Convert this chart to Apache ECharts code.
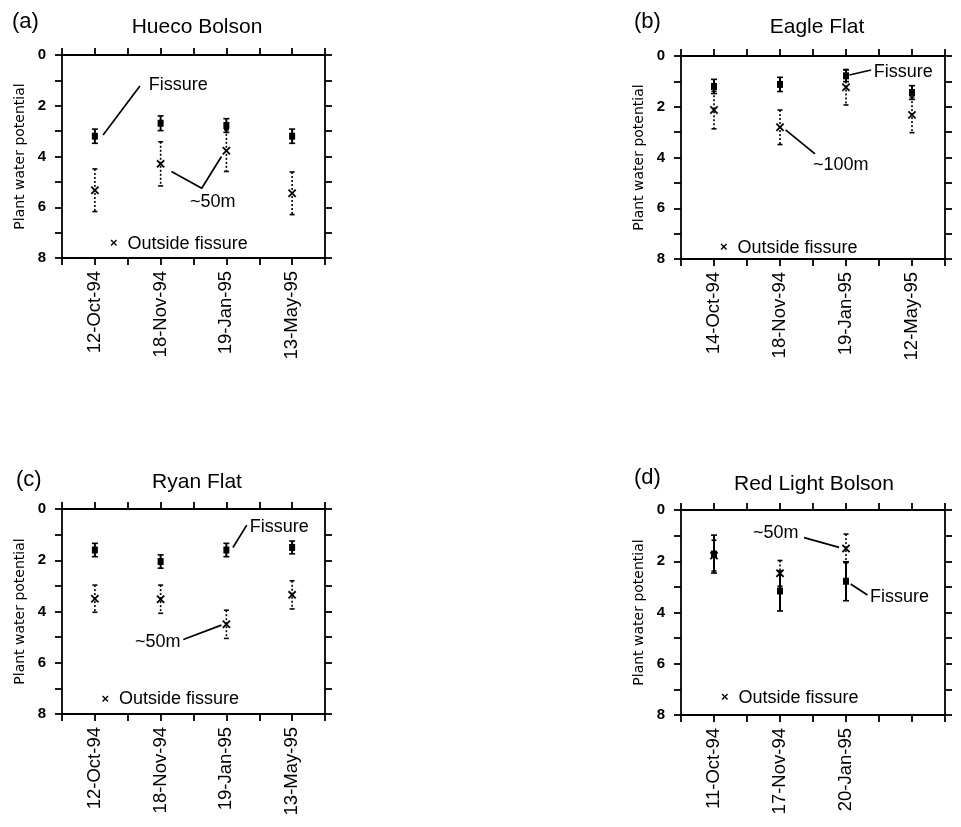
<!DOCTYPE html>
<html>
<head>
<meta charset="utf-8">
<script src="https://cdn.jsdelivr.net/npm/echarts@6/dist/echarts.min.js"></script>
<style>
html,body{margin:0;padding:0;background:#fff;}
#chart{width:961px;height:827px;}
</style>
</head>
<body>
<div id="chart"></div>
<script>
// ---------------- DATA ----------------
const titles = ['Hueco Bolson', 'Eagle Flat', 'Ryan Flat', 'Red Light Bolson'];
const panelLetters = ['(a)', '(b)', '(c)', '(d)'];
const yTicks = [0, 2, 4, 6, 8];
const yAxisName = 'Plant water potential';

const datesA = ['12-Oct-94', '18-Nov-94', '19-Jan-95', '13-May-95'];
const fissureA = [3.2, 2.69, 2.78, 3.2];
const fissureErrA = [0.28, 0.29, 0.27, 0.28];
const outsideA = [5.33, 4.29, 3.77, 5.45];
const outsideErrA = [0.84, 0.87, 0.82, 0.84];

const datesB = ['14-Oct-94', '18-Nov-94', '19-Jan-95', '12-May-95'];
const fissureB = [1.2, 1.12, 0.78, 1.44];
const fissureErrB = [0.28, 0.28, 0.23, 0.27];
const outsideB = [2.13, 2.81, 1.23, 2.32];
const outsideErrB = [0.74, 0.68, 0.7, 0.7];

const datesC = ['12-Oct-94', '18-Nov-94', '19-Jan-95', '13-May-95'];
const fissureC = [1.6, 2.05, 1.6, 1.5];
const fissureErrC = [0.26, 0.26, 0.26, 0.25];
const outsideC = [3.5, 3.52, 4.5, 3.35];
const outsideErrC = [0.53, 0.55, 0.55, 0.55];

const datesD = ['11-Oct-94', '17-Nov-94', '20-Jan-95'];
const fissureD = [1.72, 3.16, 2.78];
const fissureErrD = [0.74, 0.78, 0.76];
const outsideD = [1.78, 2.47, 1.5];
const outsideErrD = [0.6, 0.5, 0.56];

// annotation texts (anchored in data coordinates: x-axis units, y value)
const annotTextsA = [
  {x: 2.64, y: 1.2, text: 'Fissure'},
  {x: 3.89, y: 5.81, text: '~50m'},
  {x: 1.46, y: 7.44, text: '{m|×}  Outside fissure'}
];
const annotLinesA = [
  [[1.25, 3.15], [2.37, 1.22]],
  [[3.33, 4.59], [4.25, 5.25], [4.85, 4.0]]
];
const annotTextsB = [
  {x: 5.84, y: 0.63, text: 'Fissure'},
  {x: 4.0, y: 4.29, text: '~100m'},
  {x: 1.18, y: 7.56, text: '{m|×}  Outside fissure'}
];
const annotLinesB = [
  [[5.1, 0.75], [5.76, 0.55]],
  [[3.17, 2.91], [4.06, 3.86]]
];
const annotTextsC = [
  {x: 5.71, y: 0.69, text: 'Fissure'},
  {x: 2.22, y: 5.18, text: '~50m'},
  {x: 1.2, y: 7.43, text: '{m|×}  Outside fissure'}
];
const annotLinesC = [
  [[5.2, 1.5], [5.62, 0.63]],
  [[3.69, 5.09], [4.85, 4.53]]
];
const annotTextsD = [
  {x: 2.18, y: 0.89, text: '~50m'},
  {x: 5.73, y: 3.39, text: 'Fissure'},
  {x: 1.21, y: 7.32, text: '{m|×}  Outside fissure'}
];
const annotLinesD = [
  [[3.73, 1.08], [4.79, 1.46]],
  [[5.14, 2.89], [5.65, 3.32]]
];

// ---------------- BUILD ----------------
const FONT = '"Liberation Sans", Arial, Helvetica, sans-serif';
const panels = [
  {dates: datesA, f: fissureA, fe: fissureErrA, o: outsideA, oe: outsideErrA, texts: annotTextsA, lines: annotLinesA},
  {dates: datesB, f: fissureB, fe: fissureErrB, o: outsideB, oe: outsideErrB, texts: annotTextsB, lines: annotLinesB},
  {dates: datesC, f: fissureC, fe: fissureErrC, o: outsideC, oe: outsideErrC, texts: annotTextsC, lines: annotLinesC},
  {dates: datesD, f: fissureD, fe: fissureErrD, o: outsideD, oe: outsideErrD, texts: annotTextsD, lines: annotLinesD}
];
const grids = [
  {left: 62, top: 55, width: 263, height: 203},
  {left: 681, top: 56, width: 264, height: 203},
  {left: 62, top: 509, width: 263, height: 205},
  {left: 681, top: 510, width: 264, height: 205}
];
const titlePos = [[197, 27], [817, 27], [197, 482], [814, 484]];
const letterPos = [[12, 22], [634, 22], [16, 480], [634, 478]];

const axLine = {show: true, onZero: false, lineStyle: {color: '#000', width: 1.8}};
const axTick = {show: true, inside: false, length: 7, lineStyle: {color: '#000', width: 1.8}};

const xAxes = [], yAxes = [], series = [], graphics = [];

function errRender(kind) {
  return function (params, api) {
    const x = api.value(0), v = api.value(1), e = api.value(2);
    const c = api.coord([x, v]);
    const t = api.coord([x, v - e]);
    const b = api.coord([x, v + e]);
    const solid = kind === 'fissure';
    const cw = solid ? 3 : 2.5;
    const ch = [
      {type: 'line', shape: {x1: c[0], y1: t[1], x2: c[0], y2: b[1]},
       style: {stroke: '#000', lineWidth: solid ? 2 : 1.6, lineDash: solid ? null : [2, 2]}},
      {type: 'line', shape: {x1: c[0] - cw, y1: t[1], x2: c[0] + cw, y2: t[1]},
       style: {stroke: '#000', lineWidth: 1.6}},
      {type: 'line', shape: {x1: c[0] - cw, y1: b[1], x2: c[0] + cw, y2: b[1]},
       style: {stroke: '#000', lineWidth: 1.6}}
    ];
    if (solid) {
      ch.push({type: 'rect', shape: {x: c[0] - 3, y: c[1] - 3.5, width: 6, height: 7}, style: {fill: '#000'}});
    } else {
      const s = 3.6;
      ch.push({type: 'line', shape: {x1: c[0] - s, y1: c[1] - s, x2: c[0] + s, y2: c[1] + s}, style: {stroke: '#000', lineWidth: 1.8}});
      ch.push({type: 'line', shape: {x1: c[0] - s, y1: c[1] + s, x2: c[0] + s, y2: c[1] - s}, style: {stroke: '#000', lineWidth: 1.8}});
    }
    return {type: 'group', children: ch};
  };
}

panels.forEach((p, i) => {
  const dates = p.dates;
  xAxes.push({
    gridIndex: i, type: 'value', position: 'bottom', min: 0, max: 8, interval: 1,
    axisLine: axLine, axisTick: axTick, splitLine: {show: false},
    axisLabel: {
      show: true, rotate: 90, margin: 13, color: '#000', fontFamily: FONT, fontSize: 18.5,
      showMinLabel: true, showMaxLabel: true,
      formatter: v => (v % 2 === 1 && dates[(v - 1) / 2]) ? dates[(v - 1) / 2] : ''
    }
  });
  xAxes.push({
    gridIndex: i, type: 'value', position: 'top', min: 0, max: 8, interval: 1,
    axisLine: axLine, axisTick: axTick, splitLine: {show: false}, axisLabel: {show: false}
  });
  yAxes.push({
    gridIndex: i, type: 'value', position: 'left', inverse: true, min: 0, max: 8, interval: 1,
    axisLine: axLine, axisTick: axTick, splitLine: {show: false},
    name: yAxisName, nameLocation: 'middle', nameGap: 35,
    nameTextStyle: {color: '#000', fontFamily: '"DejaVu Sans", sans-serif', fontSize: 14},
    axisLabel: {
      show: true, margin: 16, color: '#000', fontFamily: FONT, fontSize: 15, fontWeight: 'bold',
      showMinLabel: true, showMaxLabel: true,
      formatter: v => yTicks.indexOf(v) >= 0 ? String(v) : ''
    }
  });
  yAxes.push({
    gridIndex: i, type: 'value', position: 'right', inverse: true, min: 0, max: 8, interval: 1,
    axisLine: axLine, axisTick: axTick, splitLine: {show: false}, axisLabel: {show: false}
  });

  const xi = 2 * i, yi = 2 * i;
  series.push({
    type: 'custom', xAxisIndex: xi, yAxisIndex: yi, clip: false, silent: true, z: 5,
    renderItem: errRender('fissure'),
    encode: {x: 0, y: 1},
    data: dates.map((d, k) => [2 * k + 1, p.f[k], p.fe[k]])
  });
  series.push({
    type: 'custom', xAxisIndex: xi, yAxisIndex: yi, clip: false, silent: true, z: 6,
    renderItem: errRender('outside'),
    encode: {x: 0, y: 1},
    data: dates.map((d, k) => [2 * k + 1, p.o[k], p.oe[k]])
  });
  p.lines.forEach(pts => {
    series.push({
      type: 'line', xAxisIndex: xi, yAxisIndex: yi, symbol: 'none', silent: true, z: 4,
      lineStyle: {color: '#000', width: 1.7}, data: pts, animation: false
    });
  });
  const texts = p.texts;
  series.push({
    type: 'custom', xAxisIndex: xi, yAxisIndex: yi, clip: false, silent: true, z: 7,
    encode: {x: 0, y: 1},
    data: texts.map(t => [t.x, t.y]),
    renderItem: (params, api) => {
      const c = api.coord([api.value(0), api.value(1)]);
      return {
        type: 'text', x: c[0], y: c[1],
        style: {
          text: texts[params.dataIndex].text, fill: '#000',
          fontFamily: FONT, fontSize: 18, align: 'left', verticalAlign: 'middle',
          rich: {m: {fontFamily: FONT, fontSize: 13, fontWeight: 'bold', fill: '#000'}}
        }
      };
    }
  });

  graphics.push({
    type: 'text', x: titlePos[i][0], y: titlePos[i][1],
    style: {text: titles[i], fill: '#000', fontFamily: FONT, fontSize: 21, align: 'center', verticalAlign: 'middle'}
  });
  graphics.push({
    type: 'text', x: letterPos[i][0], y: letterPos[i][1],
    style: {text: panelLetters[i], fill: '#000', fontFamily: FONT, fontSize: 22, align: 'left', verticalAlign: 'middle'}
  });
});

const chart = echarts.init(document.getElementById('chart'), null, {renderer: 'canvas'});
chart.setOption({
  backgroundColor: '#fff',
  animation: false,
  grid: grids.map(g => Object.assign({containLabel: false}, g)),
  xAxis: xAxes,
  yAxis: yAxes,
  series: series,
  graphic: graphics
});
</script>
</body>
</html>
